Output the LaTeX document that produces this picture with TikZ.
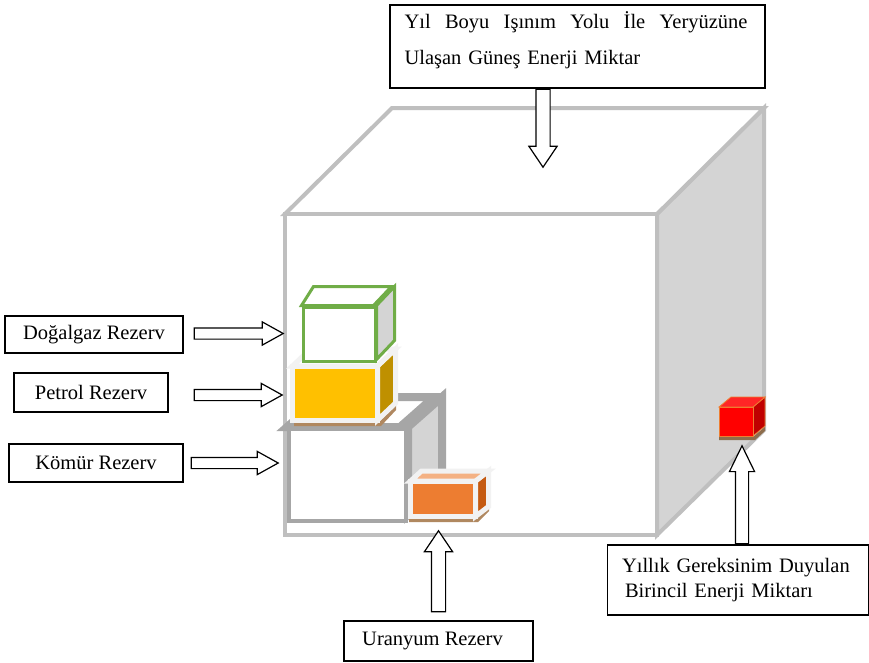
\documentclass[tikz,border=0pt]{standalone}
\usepackage{fontspec}
\setmainfont{Liberation Serif}
\usetikzlibrary{shapes.arrows, calc, positioning}

\definecolor{kupgri}{HTML}{BFBFBF}
\definecolor{kupyan}{HTML}{D4D4D4}
\definecolor{komurgri}{HTML}{A6A6A6}
\definecolor{gazyesil}{HTML}{70AD47}
\definecolor{petrolsari}{HTML}{FFC000}
\definecolor{petrolkoyu}{HTML}{BF9000}
\definecolor{uranturuncu}{HTML}{ED7D31}
\definecolor{urankoyu}{HTML}{C55A11}
\definecolor{uranacik}{HTML}{F4B183}
\definecolor{kirmizikoyu}{HTML}{C00000}
\definecolor{kenarbeyaz}{HTML}{F2F2F2}
\definecolor{golge}{HTML}{B08860}

\begin{document}
\begin{tikzpicture}[x=1pt, y=-1pt,
        every node/.style={font=\fontsize{20.5}{25}\selectfont, inner sep=0pt},
        etiket/.style={draw, line width=1.2pt, fill=white},
        blok/.style={single arrow, draw, line width=1.2pt, fill=white,
            inner sep=5pt, single arrow head extend=6pt, single arrow tip angle=58},
        kalinblok/.style={blok, inner sep=6.5pt, single arrow head extend=7pt,
            single arrow tip angle=68}
    ]
        \useasboundingbox (0,0) rectangle (869,662);

        % Büyük küp
        \filldraw[draw=kupgri, line width=4pt, fill=kupyan]
            (657,214) -- (764,108) -- (764,430) -- (657,535) -- cycle;
        \filldraw[draw=kupgri, line width=4pt, fill=white]
            (285,214) -- (392,108) -- (764,108) -- (657,214) -- cycle;
        \node[draw=kupgri, line width=4pt, fill=white, minimum width=372, minimum height=321] (kup) at (471,374.5) {};

        % Kömür
        \node[draw=komurgri, line width=8pt, minimum width=113, minimum height=88] (komur) at (347.5,475) {};
        \filldraw[draw=komurgri, line width=8pt, fill=kupyan]
            (komur.north east) -- ++(34,-30) -- ++(0,88) -- ++(-34,30) -- cycle;
        \filldraw[draw=komurgri, line width=8pt, fill=white]
            (komur.north west) -- ++(34,-30) -- ++(113,0) -- ++(-34,30) -- cycle;
        \fill[white] ($(komur.south west)+(4,-4)$) rectangle ($(komur.north east)+(-4,4)$);

        % Petrol
        \fill[golge] (294,422) -- (379,422) -- (396,405) -- (396,410) -- (381,426) -- (294,426) -- cycle;
        \filldraw[draw=kenarbeyaz, line width=5pt, fill=petrolkoyu]
            (377.5,366) -- ++(18,-17) -- ++(0,54) -- ++(-18,17) -- cycle;
        \filldraw[draw=kenarbeyaz, line width=5pt, fill=white]
            (292.5,366) -- ++(18,-17) -- ++(85,0) -- ++(-18,17) -- cycle;
        \node[draw=kenarbeyaz, line width=5pt, fill=petrolsari, minimum width=85, minimum height=54] (petrol) at (335,393) {};

        % Doğalgaz
        \node[draw=gazyesil, line width=3pt, fill=white, minimum width=72, minimum height=54] (gaz) at (339,334) {};
        \filldraw[draw=gazyesil, line width=3pt, fill=kupyan]
            (gaz.north east) -- ++(18,-19) -- ++(0,54) -- ++(-18,19) -- cycle;
        \filldraw[draw=gazyesil, line width=3pt, fill=white]
            (gaz.north west) -- ++(12,-19) -- ++(78,0) -- ++(-18,19) -- cycle;

        % Uranyum
        \fill[golge] (409,519) -- (476,519) -- (489,507) -- (489,511) -- (478,522) -- (409,522) -- cycle;
        \filldraw[draw=kenarbeyaz, line width=5pt, fill=urankoyu]
            (475.5,481) -- ++(13,-10) -- ++(0,35.5) -- ++(-13,10) -- cycle;
        \filldraw[draw=kenarbeyaz, line width=5pt, fill=uranacik]
            (410.5,481) -- ++(11,-10) -- ++(67,0) -- ++(-13,10) -- cycle;
        \node[draw=kenarbeyaz, line width=5pt, fill=uranturuncu, minimum width=65, minimum height=35.5] (uran) at (443,498.75) {};

        % Yıllık enerji
        \fill[golge!80!black] (719,437) -- (753,437) -- (765,427) -- (765,431) -- (755,440) -- (719,440) -- cycle;
        \filldraw[draw=uranturuncu, line width=0.8pt, fill=kirmizikoyu]
            (753,407) -- ++(12,-10) -- ++(0,29) -- ++(-12,10) -- cycle;
        \filldraw[draw=uranturuncu, line width=0.8pt, fill=red!85!white]
            (719,407) -- ++(12,-10) -- ++(34,0) -- ++(-12,10) -- cycle;
        \node[draw=uranturuncu, line width=0.8pt, fill=red, minimum width=34, minimum height=29] (kirmizi) at (736,421.5) {};

        % Etiketler
        \node[etiket, minimum width=375, minimum height=83] (gunes) at (577.5,46.5) {};
        \node[font=\fontsize{20.5}{36}\selectfont, text width=345, align=left] (gunesyazi) at (577,40)
            {\hbox to 343pt{Yıl\hfill Boyu\hfill Işınım\hfill Yolu\hfill İle\hfill Yeryüzüne}\\Ulaşan Güneş Enerji Miktar};
        \node[etiket, minimum width=178, minimum height=37] (dogalgaz) at (94,334.5) {Doğalgaz Rezerv};
        \node[etiket, minimum width=154, minimum height=39] (petrolrezerv) at (91,392.5) {Petrol Rezerv};
        \node[etiket, minimum width=174, minimum height=38] (komurrezerv) at (96,463) {Kömür Rezerv};
        \node[etiket, minimum width=189, minimum height=40] (uranyum) at (438.5,641) {Uranyum Rezerv\kern12pt};
        \node[etiket, minimum width=261, minimum height=70, text width=232, align=left] (yillik) at (738,580)
            {Yıllık Gereksinim Duyulan\\\hspace{3pt}Birincil Enerji Miktarı};

        % Oklar
        \node[blok, minimum height=89, anchor=tail] (okgaz) at ($(dogalgaz.east)+(10,-1)$) {};
        \node[blok, minimum height=88, anchor=tail] (okpetrol) at ($(petrolrezerv.east)+(25,2.5)$) {};
        \node[blok, minimum height=87, anchor=tail] (okkomur) at ($(komurrezerv.east)+(7,0)$) {};
        \node[kalinblok, minimum height=78, anchor=tail, rotate=-90] (okgunes) at ($(gunes.south)+(-34.5,0)$) {};
        \node[kalinblok, minimum height=81, anchor=tail, rotate=90] (okuran) at ($(uranyum.north)+(0,-8)$) {};
        \node[blok, minimum height=98, anchor=tail, rotate=90, inner sep=6pt,
            single arrow head extend=6pt, single arrow tip angle=52] (okyillik) at ($(yillik.north)+(4,0)$) {};
\end{tikzpicture}
\end{document}
